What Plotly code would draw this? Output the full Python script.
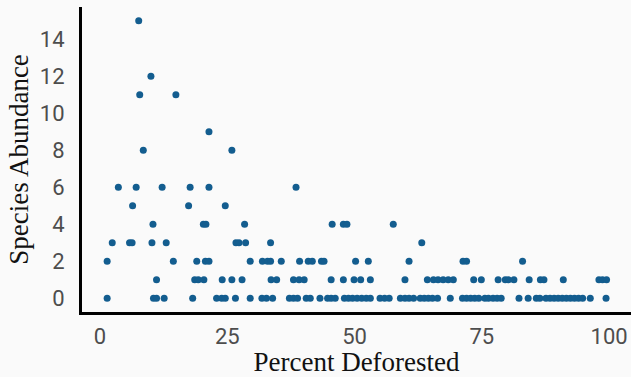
import plotly.graph_objects as go

# Percent deforested values grouped by species abundance level
abund_0 = [1.4, 10.5, 11.1, 12.6, 18.2, 22.9, 23.9, 24.6, 26.6, 29.5, 31.8, 32.7, 33.9,
           37.2, 38.0, 38.8, 40.5, 41.3, 43.2, 44.7, 45.4, 46.2, 48.0, 48.8, 49.6, 50.5,
           51.4, 52.3, 53.1, 55.0, 55.9, 56.8, 59.0, 59.9, 60.7, 61.6, 62.9, 63.7, 64.5,
           65.3, 66.3, 68.8, 71.2, 72.0, 72.8, 73.6, 74.4, 75.6, 76.3, 77.2, 78.0, 78.8,
           82.3, 84.1, 85.7, 86.4, 87.6, 88.4, 89.2, 90.0, 90.8, 91.6, 92.4, 93.2, 94.0,
           94.8, 96.3, 99.4]
abund_1 = [11.1, 18.6, 19.3, 20.4, 24.0, 25.9, 27.9, 33.6, 34.7, 38.0, 39.1, 40.1, 45.4,
           47.8, 49.9, 51.2, 53.1, 59.9, 64.3, 65.5, 66.4, 67.4, 68.4, 69.4, 73.4, 74.9,
           78.2, 79.6, 80.2, 81.3, 84.3, 86.5, 87.2, 91.0, 98.0, 98.7, 99.5]
abund_2 = [1.4, 14.4, 19.0, 20.7, 21.4, 29.5, 31.9, 32.9, 33.5, 35.6, 39.2, 40.9, 41.7,
           43.5, 44.0, 50.2, 52.7, 60.7, 71.3, 72.0, 83.0]
abund_3 = [2.4, 5.8, 6.3, 10.2, 13.0, 26.7, 27.3, 28.6, 33.5, 63.2]
abund_4 = [10.4, 20.3, 20.8, 28.4, 45.6, 47.8, 48.5, 57.6]
abund_5 = [6.4, 17.4, 24.6]
abund_6 = [3.6, 7.1, 12.2, 17.7, 21.4, 38.5]
abund_8 = [8.5, 25.9]
abund_9 = [21.4]
abund_11 = [7.8, 14.9]
abund_12 = [10.0]
abund_15 = [7.6]

levels = {0: abund_0, 1: abund_1, 2: abund_2, 3: abund_3, 4: abund_4, 5: abund_5,
          6: abund_6, 8: abund_8, 9: abund_9, 11: abund_11, 12: abund_12, 15: abund_15}

x_ticks = [0, 25, 50, 75, 100]
y_ticks = [0, 2, 4, 6, 8, 10, 12, 14]

xs, ys = [], []
for lvl, vals in levels.items():
    xs.extend(vals)
    ys.extend([lvl] * len(vals))

fig = go.Figure(go.Scatter(
    x=xs, y=ys, mode="markers",
    marker=dict(color="#135d8f", size=7, line=dict(width=0)),
    showlegend=False,
))

bg = "#fafafa"
fig.update_layout(
    width=631, height=377,
    margin=dict(l=82, r=0, t=7, b=65),
    paper_bgcolor=bg, plot_bgcolor=bg,
    font=dict(family="Roboto", size=22, color="#4d4d4d"),
)
fig.update_xaxes(
    range=[-3.54, 104.3], tickvals=x_ticks, ticktext=[str(v) for v in x_ticks],
    showgrid=False, zeroline=False, showline=True, linecolor="black", linewidth=3,
    ticks="", ticklabelstandoff=3, automargin=False,
    title=dict(text="Percent Deforested", standoff=15,
               font=dict(family="Liberation Serif", size=27, color="#111111")),
)
fig.update_yaxes(
    range=[-0.74, 15.75], tickvals=y_ticks, ticktext=[str(v) for v in y_ticks],
    showgrid=False, zeroline=False, showline=True, linecolor="black", linewidth=3,
    ticks="", ticklabelstandoff=10, automargin=False,
    title=dict(text="Species Abundance", standoff=4,
               font=dict(family="Liberation Serif", size=27, color="#111111")),
)

fig.write_html("out.html")
